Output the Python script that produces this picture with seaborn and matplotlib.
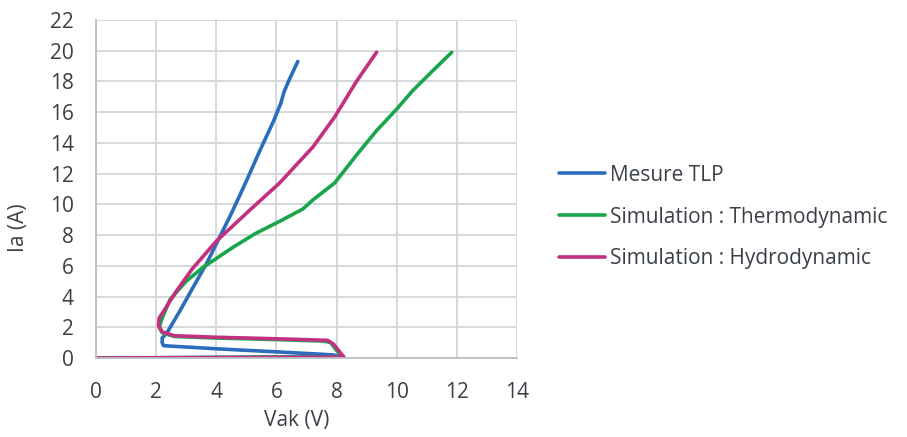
import matplotlib
matplotlib.use("Agg")
import matplotlib.pyplot as plt
import seaborn as sns
import pandas as pd

# TLP I-V curves (Vak in V, Ia in A)
tlp_v = [0, 8.1, 7.9, 6.0, 4.0, 2.25, 2.2, 2.2, 2.35, 2.8, 3.2, 3.69, 4.12, 4.5,
         5.02, 5.45, 5.9, 6.15, 6.25, 6.4, 6.71]
tlp_i = [0, 0.08, 0.2, 0.4, 0.6, 0.8, 1.0, 1.3, 1.6, 3.1, 4.5, 6.2, 7.9, 9.4,
         11.6, 13.5, 15.4, 16.6, 17.3, 18.0, 19.3]

thermo_v = [0, 8.2, 8.0, 7.8, 7.6, 6.0, 4.0, 2.6, 2.2, 2.1, 2.2, 2.46, 3.0, 3.56,
            4.55, 5.3, 6.11, 6.88, 7.22, 7.94, 8.66, 9.33, 10.0, 10.53, 11.2, 11.83]
thermo_i = [0, 0.05, 0.5, 1.0, 1.1, 1.2, 1.3, 1.4, 1.65, 2.0, 2.6, 3.8, 5.0, 5.9,
            7.2, 8.1, 8.9, 9.7, 10.3, 11.4, 13.2, 14.8, 16.2, 17.4, 18.7, 19.9]

hydro_v = [0, 8.25, 8.1, 7.9, 7.7, 6.0, 4.0, 2.6, 2.2, 2.08, 2.1, 2.3, 2.69, 3.2,
           4.0, 5.1, 6.11, 7.22, 7.94, 8.66, 9.33]
hydro_i = [0, 0.05, 0.4, 0.9, 1.15, 1.25, 1.35, 1.45, 1.7, 2.1, 2.6, 3.2, 4.4, 5.8,
           7.6, 9.6, 11.4, 13.75, 15.7, 18.0, 19.9]

labels = ["Mesure TLP", "Simulation : Thermodynamic", "Simulation : Hydrodynamic"]
colors = ["#2b6cbb", "#17a64a", "#c2307f"]

frames = []
for lab, v, i in zip(labels, [tlp_v, thermo_v, hydro_v], [tlp_i, thermo_i, hydro_i]):
    d = pd.DataFrame({"Vak": v, "Ia": i})
    d["serie"] = lab
    frames.append(d)
df = pd.concat(frames, ignore_index=True)

sns.set_style("whitegrid")
plt.rcParams["font.family"] = ["Open Sans", "DejaVu Sans"]
text_col = "#3a4048"
fs = 15

fig = plt.figure(figsize=(9.07, 4.37), dpi=100)
ax = fig.add_axes([96 / 907, 1 - 358 / 437, 421 / 907, 338 / 437])

for lab, col in zip(labels, colors):
    sub = df[df["serie"] == lab]
    sns.lineplot(data=sub, x="Vak", y="Ia", sort=False, estimator=None,
                 color=col, lw=2.6, label=lab, ax=ax)

ax.set_xlim(0, 14)
ax.set_ylim(0, 22)
ax.set_xticks(range(0, 15, 2))
ax.set_yticks(range(0, 23, 2))
ax.grid(True, color="#d3d6d9", lw=1.3)
for s in ["top", "right"]:
    ax.spines[s].set_visible(False)
for s in ["left", "bottom"]:
    ax.spines[s].set_color("#b9c0c6")
    ax.spines[s].set_linewidth(1.3)
ax.tick_params(axis="both", length=0, labelsize=fs, labelcolor=text_col)
ax.tick_params(axis="x", pad=17)
ax.tick_params(axis="y", pad=16)

ax.set_xlabel("Vak (V)", fontsize=fs, color=text_col)
ax.set_ylabel("Ia (A)", fontsize=fs, color=text_col)
ax.xaxis.set_label_coords(0.477, -0.155)
ax.yaxis.set_label_coords(-0.16, 0.385)

handles, labs = ax.get_legend_handles_labels()
ax.get_legend().remove()
fig.legend(handles, labs, loc="center left", bbox_to_anchor=(540 / 907, 1 - 217 / 437),
           frameon=False, fontsize=fs, handlelength=2.2, handletextpad=0.25,
           labelspacing=1.0, labelcolor=text_col)

fig.savefig("out.png", dpi=100)
